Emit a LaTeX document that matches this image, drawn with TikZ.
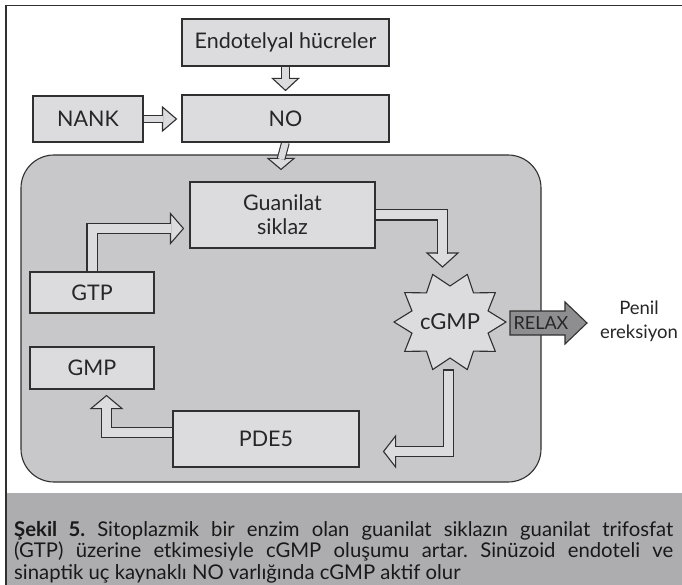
\documentclass[tikz,border=0pt]{standalone}
\usepackage{fontspec}
\setmainfont{Lato}
\usetikzlibrary{calc}
\pgfdeclarelayer{celllayer}
\pgfdeclarelayer{arrowlayer}
\pgfsetlayers{celllayer,arrowlayer,main}
\definecolor{dark}{HTML}{303030}
\definecolor{boxfill}{HTML}{DCDCDE}
\definecolor{cellfill}{HTML}{C8C8CA}
\definecolor{relaxfill}{HTML}{8E8E90}
\definecolor{capfill}{HTML}{ADADAF}
\begin{document}
\begin{tikzpicture}[x=1pt,y=-1pt,
  lbl/.style={font=\fontsize{21.5}{24}\selectfont, text=black!85},
  box/.style={lbl, draw=dark, fill=boxfill, line width=1.1pt, inner sep=0pt, align=center},
  shaftS/.style={draw=dark, line width=1.1pt, double=boxfill, double distance=6.5pt, line join=miter},
  shaftL/.style={draw=dark, line width=1.1pt, double=boxfill, double distance=9pt, line join=miter},
  headst/.style={draw=dark, fill=boxfill, line width=1.1pt, line join=miter}]
\useasboundingbox (0,0) rectangle (682,585);

\begin{pgfonlayer}{celllayer}
\fill[white] (0,0) rectangle (682,585);
\fill[capfill] (6,493) rectangle (682,585);
\draw[dark, line width=1.6pt] (682,5.5) -- (6,5.5) -- (6,585);
\node[draw=dark, fill=cellfill, rounded corners=33pt, minimum width=520pt, minimum height=327pt, line width=1.1pt, inner sep=0pt] (cell) at (281,318.5) {};
\end{pgfonlayer}

% boxes
\node[box, minimum width=207pt, minimum height=47pt] (endo) at (285.5,42.5) {Endotelyal hücreler};
\node[box, minimum width=207pt, minimum height=47pt] (no) at (285.5,118.5) {NO};
\node[box, minimum width=110pt, minimum height=46pt] (nank) at (88,119) {NANK};
\node[box, minimum width=185pt, minimum height=66pt] (guan) at (282.5,215) {Guanilat\\siklaz};
\node[box, minimum width=124pt, minimum height=41pt] (gtp) at (92,292.5) {GTP};
\node[box, minimum width=124pt, minimum height=42pt] (gmp) at (92,368) {GMP};
\node[box, minimum width=186pt, minimum height=56pt] (pde) at (266,439) {PDE5};

% star
\coordinate (cgmpc) at (450,322);
\draw[dark, fill=boxfill, line width=1.1pt, line join=miter] ($(cgmpc)+(0:56 and 50)$)
  \foreach \a in {0,36,...,324} { -- ($(cgmpc)+({\a+18}:40 and 36)$) -- ($(cgmpc)+({\a+36}:56 and 50)$) } -- cycle;
\node[lbl, inner sep=0pt, font=\fontsize{22}{24}\selectfont] (cgmp) at (cgmpc) {cGMP};

% RELAX arrow
\node[font=\fontsize{18}{20}\selectfont, text=black!85, inner sep=0pt] (relax) at (541,323) {RELAX};
\begin{pgfonlayer}{arrowlayer}
\draw[dark, fill=relaxfill, line width=1.1pt, line join=miter]
  ($(relax)+(-31,-12)$) -- ($(relax)+(24,-12)$) -- ($(relax)+(24,-21)$) -- ($(relax)+(46,0)$)
  -- ($(relax)+(24,21)$) -- ($(relax)+(24,12)$) -- ($(relax)+(-31,12)$) -- cycle;
\end{pgfonlayer}

\node[lbl, align=center, inner sep=0pt, font=\fontsize{18.5}{24}\selectfont] (penil) at (639,321) {Penil\\ereksiyon};

% caption
\node[anchor=north west, inner sep=0pt, text width=659pt, align=justify, text=black!90,
  font=\fontsize{20.3}{21.5}\selectfont\frenchspacing] (cap) at (14,521)
  {\textbf{Şekil 5.} Sitoplazmik bir enzim olan guanilat siklazın guanilat trifosfat\linebreak
   (GTP) üzerine etkimesiyle cGMP oluşumu artar. Sinüzoid endoteli ve\linebreak
   sinaptik uç kaynaklı NO varlığında cGMP aktif olur};

% hollow arrows
\begin{pgfonlayer}{arrowlayer}
% endo -> no
\coordinate (a1t) at ($(no.north)+(0,-4)$);
\draw[headst] (a1t) -- ++(-13,-12) -- ++(26,0) -- cycle;
\draw[shaftS] (endo.south) -- ($(a1t)+(0,-11.4)$);
% no -> cell
\coordinate (a2t) at ($(cell.north)+(0,15)$);
\draw[headst] (a2t) -- ++(-13,-11) -- ++(26,0) -- cycle;
\draw[shaftS] (no.south) -- ($(a2t)+(0,-10.4)$);
% nank -> no
\coordinate (a3t) at ($(no.west)+(-5,0.5)$);
\draw[headst] (a3t) -- ++(-14,-12) -- ++(0,24) -- cycle;
\draw[shaftS] (nank.east) -- ($(a3t)+(-13.4,0)$);
% gtp -> guan
\coordinate (a4t) at ($(guan.west)+(-6,13.5)$);
\draw[headst] (a4t) -- ++(-13,-15) -- ++(0,30) -- cycle;
\draw[shaftL] (gtp.north) -- (gtp.north |- a4t) -- ($(a4t)+(-12.4,0)$);
% guan -> cgmp
\coordinate (a5t) at ($(cgmpc)+(-7.5,-55)$);
\draw[headst] (a5t) -- ++(-15.5,-14) -- ++(31,0) -- cycle;
\draw[shaftL] (guan.east) -- (a5t |- guan.east) -- ($(a5t)+(0,-13.4)$);
% cgmp -> pde
\coordinate (a6s) at ($(cgmpc)+(-1.5,48)$);
\coordinate (a6t) at ($(pde.east)+(24,12.5)$);
\draw[headst] (a6t) -- ++(12,-15.5) -- ++(0,31) -- cycle;
\draw[shaftL] (a6s) -- (a6s |- a6t) -- ($(a6t)+(11.4,0)$);
\draw[dark, line width=1.1pt] ($(a6s)+(-5.6,0)$) -- ($(a6s)+(5.6,0)$);
% pde -> gmp
\coordinate (a7s) at ($(pde.west)+(0,-6.5)$);
\coordinate (a7t) at ($(gmp.south)+(14.5,6)$);
\draw[headst] (a7t) -- ++(-15.5,13) -- ++(31,0) -- cycle;
\draw[shaftL] (a7s) -- (a7s -| a7t) -- ($(a7t)+(0,12.4)$);
\end{pgfonlayer}
\end{tikzpicture}
\end{document}
